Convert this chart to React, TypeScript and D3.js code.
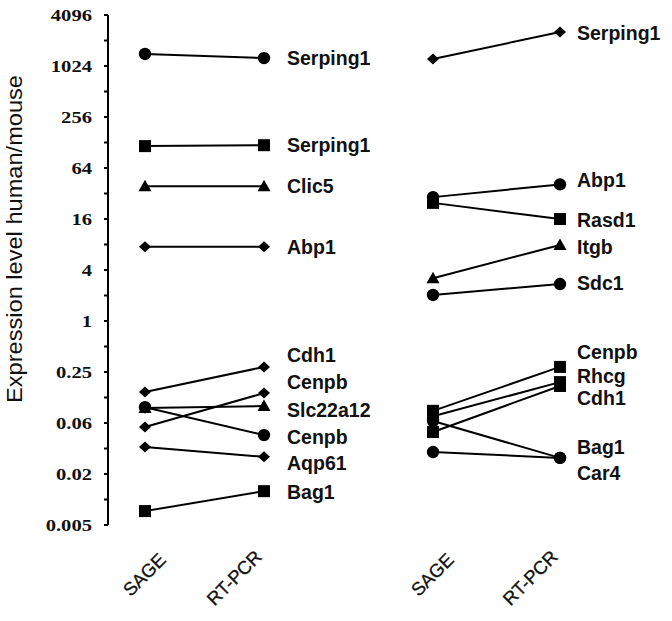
import React from "react";
import * as d3 from "d3";

// ---- Data ----
const categories = ["SAGE", "RT-PCR"];

const tickValues = [4096, 1024, 256, 64, 16, 4, 1, 0.25, 0.0625, 0.015625, 0.00390625];
const tickLabels = ["4096", "1024", "256", "64", "16", "4", "1", "0.25", "0.06", "0.02", "0.005"];
const minorTickValues = [2048, 512, 128, 32, 8, 2, 0.5, 0.125, 0.03125, 0.0078125];

// Left panel
const leftGenes = ["Serping1", "Serping1", "Clic5", "Abp1", "Cdh1", "Cenpb", "Slc22a12", "Cenpb", "Aqp61", "Bag1"];
const leftMarkers = ["circle", "square", "triangle", "diamond", "diamond", "diamond", "triangle", "circle", "diamond", "square"];
const leftSage = [1420, 116, 39, 7.5, 0.145, 0.056, 0.094, 0.096, 0.0326, 0.0057];
const leftRtpcr = [1270, 119, 39, 7.5, 0.287, 0.141, 0.099, 0.045, 0.0249, 0.0098];
const leftLabelLevel = [1270, 119, 39, 7.5, 0.397, 0.19, 0.089, 0.0427, 0.021, 0.0095];

// Right panel
const rightGenes = ["Serping1", "Abp1", "Rasd1", "Itgb", "Sdc1", "Cenpb", "Rhcg", "Cdh1", "Bag1", "Car4"];
const rightMarkers = ["diamond", "circle", "square", "triangle", "circle", "square", "square", "square", "circle", "circle"];
const rightSage = [1236, 29, 24.8, 3.2, 2.03, 0.087, 0.075, 0.049, 0.066, 0.0284];
const rightRtpcr = [2580, 41, 16, 7.9, 2.73, 0.287, 0.19, 0.171, 0.0242, 0.0242];
const rightLabelLevel = [2510, 46, 15.6, 7.5, 2.8, 0.43, 0.222, 0.125, 0.0326, 0.0161];

const W = 672;
const H = 621;

const y = d3.scaleLog().base(2).domain([0.00390625, 4096]).range([525, 15]);
const xLeft = d3.scalePoint<string>().domain(categories).range([145, 264]);
const xRight = d3.scalePoint<string>().domain(categories).range([433, 560]);

function Marker({ type, cx, cy }: { type: string; cx: number; cy: number }) {
  if (type === "circle") return <circle cx={cx} cy={cy} r={6.2} fill="#000" />;
  if (type === "square") return <rect x={cx - 6} y={cy - 6} width={12} height={12} fill="#000" />;
  if (type === "triangle")
    return <path d={`M${cx},${cy - 6.5}L${cx + 6.5},${cy + 5}L${cx - 6.5},${cy + 5}Z`} fill="#000" />;
  return <path d={`M${cx},${cy - 5.5}L${cx + 6},${cy}L${cx},${cy + 5.5}L${cx - 6},${cy}Z`} fill="#000" />;
}

function Panel({
  x,
  genes,
  markers,
  sage,
  rt,
  labelLevel,
  labelX,
}: {
  x: d3.ScalePoint<string>;
  genes: string[];
  markers: string[];
  sage: number[];
  rt: number[];
  labelLevel: number[];
  labelX: number;
}) {
  const line = d3
    .line<[string, number]>()
    .x((d) => x(d[0]) as number)
    .y((d) => y(d[1]));
  return (
    <g>
      {genes.map((g, i) => (
        <g key={i}>
          <path
            d={line([
              [categories[0], sage[i]],
              [categories[1], rt[i]],
            ]) as string}
            stroke="#000"
            strokeWidth={2}
            fill="none"
          />
          <Marker type={markers[i]} cx={x(categories[0]) as number} cy={y(sage[i])} />
          <Marker type={markers[i]} cx={x(categories[1]) as number} cy={y(rt[i])} />
        </g>
      ))}
      {genes.map((g, i) => (
        <text
          key={"t" + i}
          x={labelX}
          y={y(labelLevel[i])}
          dy="0.36em"
          fontFamily="'Liberation Sans', Arial, sans-serif"
          fontWeight="bold"
          fontSize={19.5}
          fill="#111"
        >
          {g}
        </text>
      ))}
    </g>
  );
}

export default function App() {
  const axisX = 108;
  return (
    <svg
      width={W}
      height={H}
      viewBox={`0 0 ${W} ${H}`}
      style={{ position: "absolute", left: 0, top: 0, background: "#fff", display: "block" }}
    >
      <rect width={W} height={H} fill="#fff" />
      {/* y axis */}
      <line x1={axisX} x2={axisX} y1={y(4096)} y2={y(0.00390625)} stroke="#000" strokeWidth={2} />
      {tickValues.map((v, i) => (
        <g key={"mt" + i}>
          <line x1={axisX - 4} x2={axisX} y1={y(v)} y2={y(v)} stroke="#000" strokeWidth={2} />
          <g transform={`translate(92,${y(v)}) scale(1.25,1)`}>
            <text
              x={0}
              y={0}
              dy="0.34em"
              textAnchor="end"
              fontFamily="'Liberation Serif', 'Times New Roman', serif"
              fontWeight="bold"
              fontSize={16.5}
              fill="#111"
            >
              {tickLabels[i]}
            </text>
          </g>
        </g>
      ))}
      {minorTickValues.map((v, i) => (
        <line key={"mi" + i} x1={axisX - 4} x2={axisX} y1={y(v)} y2={y(v)} stroke="#000" strokeWidth={2} />
      ))}
      {/* y label */}
      <text
        transform={`translate(22,239) rotate(-90)`}
        textAnchor="middle"
        fontFamily="'Liberation Sans', Arial, sans-serif"
        fontSize={22}
        textLength={328}
        lengthAdjust="spacingAndGlyphs"
        fill="#111"
      >
        Expression level human/mouse
      </text>

      <Panel
        x={xLeft}
        genes={leftGenes}
        markers={leftMarkers}
        sage={leftSage}
        rt={leftRtpcr}
        labelLevel={leftLabelLevel}
        labelX={287}
      />
      <Panel
        x={xRight}
        genes={rightGenes}
        markers={rightMarkers}
        sage={rightSage}
        rt={rightRtpcr}
        labelLevel={rightLabelLevel}
        labelX={577}
      />

      {/* x labels */}
      {[xLeft, xRight].map((xs, p) =>
        categories.map((c, i) => (
          <text
            key={p + "-" + i}
            transform={`translate(${(xs(c) as number) + (i === 0 ? 22 : -1)},${561 - (i === 1 ? 3 : 0)}) rotate(-45)`}
            textAnchor="end"
            fontFamily="'Liberation Sans', Arial, sans-serif"
            fontSize={18.5}
            stroke="#111"
            strokeWidth={0.3}
            fill="#111"
          >
            {c}
          </text>
        ))
      )}
    </svg>
  );
}
